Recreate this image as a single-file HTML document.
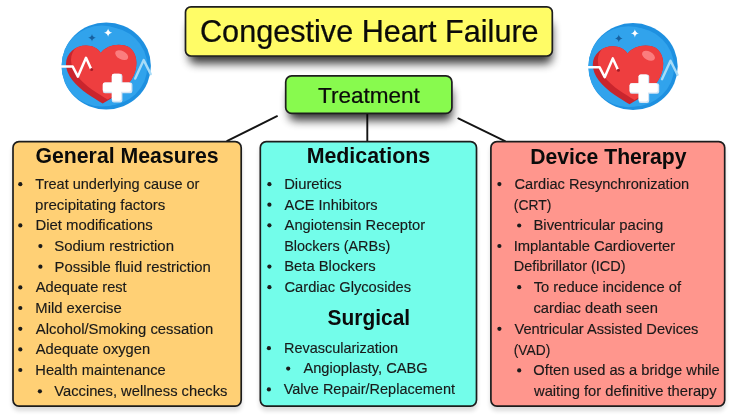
<!DOCTYPE html>
<html><head><meta charset="utf-8"><title>Congestive Heart Failure - Treatment</title>
<style>
html,body{margin:0;padding:0;background:#fff;}
body{width:738px;height:415px;overflow:hidden;font-family:"Liberation Sans",sans-serif;}
svg{display:block;}
text{font-family:"Liberation Sans",sans-serif;fill:#1a1a1a;}
.h{font-weight:bold;font-size:21.4px;fill:#0b0b0b;}
.t{font-size:14.8px;stroke:#1a1a1a;stroke-width:0.15px;}
.T{fill:#0b0b0b;stroke:#0b0b0b;stroke-width:0.25px;}
.b{fill:#1a1a1a;}
</style></head><body>
<svg width="738" height="415" viewBox="0 0 738 415">
<defs>
<filter id="sh2" x="-5%" y="-5%" width="110%" height="112%">
<feGaussianBlur in="SourceAlpha" stdDeviation="2"/><feOffset dx="0" dy="3.5"/>
<feComponentTransfer><feFuncA type="linear" slope="0.14"/></feComponentTransfer>
<feMerge><feMergeNode/><feMergeNode in="SourceGraphic"/></feMerge>
</filter>
<filter id="bl" x="-20%" y="-60%" width="140%" height="220%"><feGaussianBlur stdDeviation="4.6"/></filter>
<g id="heart">
<clipPath id="hc"><path id="hp" d="M-5.5,-12.5 C-10,-21 -25,-23 -34,-15 C-42.5,-7.5 -42,4 -34,14.5 C-26,25 -12,32.8 -3.5,38 C6,32.8 22,22.5 27.5,10 C32.5,-1.5 30.5,-13.5 22.5,-18.5 C14,-22.8 1,-21 -5.5,-12.5Z"/></clipPath>
<clipPath id="cc"><ellipse cx="0" cy="0.4" rx="44.7" ry="43.5"/></clipPath>
<ellipse cx="0" cy="0.4" rx="44.7" ry="43.5" fill="#1e90e0"/>
<ellipse cx="0.5" cy="0.8" rx="40.6" ry="39.4" fill="#31a3ec"/>
<g clip-path="url(#cc)">
<path d="M12,-46 A46,46 0 0 1 32,34 L60,34 L60,-46Z" fill="#4db6f3"/>
<circle cx="-4.5" cy="0.5" r="40.5" fill="#31a3ec"/>
</g>
<path d="M29,13 L37.5,-5.5 L44.5,8.5" fill="none" stroke="#a8dcf8" stroke-width="2.4" stroke-linejoin="round" stroke-linecap="round"/>
<use href="#hp" fill="#c9252d"/>
<g clip-path="url(#hc)">
<use href="#hp" fill="#ee3e3f" transform="translate(5,-4.2)"/>
<ellipse cx="15.5" cy="-10.5" rx="7" ry="4.2" fill="#fb7d7e" transform="rotate(28 15.5 -10.5)"/>
</g>
<path d="M-46,1 L-33.5,1 L-28.3,11 L-20.2,-7.8 L-15.2,3.2" fill="none" stroke="#ffffff" stroke-width="2.5" stroke-linejoin="round" stroke-linecap="round"/>
<circle cx="-14.6" cy="4" r="1.5" fill="#a51c26"/>
<path d="M1.9,-37 Q2.4,-33.4 6,-32.9 Q2.4,-32.4 1.9,-28.8 Q1.4,-32.4 -2.2,-32.9 Q1.4,-33.4 1.9,-37Z" fill="#ffffff"/>
<path d="M-14.2,-31.6 Q-13.7,-28.3 -10.4,-27.8 Q-13.7,-27.3 -14.2,-24 Q-14.7,-27.3 -18,-27.8 Q-14.7,-28.3 -14.2,-31.6Z" fill="#17609f"/>
<g>
<rect x="5.6" y="8.2" width="10.6" height="28.6" rx="2.2" fill="#d4e4f4"/>
<rect x="-3.4" y="17" width="29.6" height="10.6" rx="2.2" fill="#d4e4f4"/>
<rect x="5.6" y="8.2" width="9.4" height="27" rx="2.2" fill="#ffffff"/>
<rect x="-3.4" y="17" width="28.2" height="9.2" rx="2.2" fill="#ffffff"/>
</g>

</g>
</defs>
<rect width="738" height="415" fill="#ffffff"/>

<g stroke="#141414" stroke-width="1.9" stroke-linecap="round" fill="none">
<line x1="227.3" y1="140.8" x2="277" y2="116.2"/>
<line x1="367.3" y1="112" x2="367.3" y2="141"/>
<line x1="458.3" y1="118.4" x2="505" y2="141.2"/>
</g>
<rect x="189" y="22" width="363" height="41.5" rx="6" fill="#000" opacity="0.78" filter="url(#bl)"/>
<rect x="289" y="88" width="163" height="32.5" rx="6" fill="#000" opacity="0.78" filter="url(#bl)"/>
<rect x="185.5" y="6.8" width="366.8" height="49.2" rx="5.5" ry="5.5" fill="#fffc66" stroke="#1e1e1e" stroke-width="1.7"/>
<rect x="285.7" y="75.9" width="166.2" height="37.5" rx="6" ry="6" fill="#88fa4e" stroke="#1e1e1e" stroke-width="1.7"/>
<rect x="13.0" y="141.7" width="228.2" height="264.4" rx="6" ry="6" fill="#ffd074" stroke="#1e1e1e" stroke-width="1.7" filter="url(#sh2)"/>
<rect x="260.3" y="141.7" width="216.2" height="264.4" rx="6" ry="6" fill="#73fdea" stroke="#1e1e1e" stroke-width="1.7" filter="url(#sh2)"/>
<rect x="490.9" y="141.7" width="233.8" height="264.4" rx="6" ry="6" fill="#ff968d" stroke="#1e1e1e" stroke-width="1.7" filter="url(#sh2)"/>
<g id="txt" opacity="0.999">
<circle class="b" cx="20.3" cy="184.2" r="2.1"/>
<text class="t" transform="translate(35.33,189.0) scale(0.9812,1)">Treat underlying cause or</text>
<text class="t" transform="translate(35.08,209.6) scale(1.0162,1)">precipitating factors</text>
<circle class="b" cx="20.3" cy="225.4" r="2.1"/>
<text class="t" transform="translate(35.44,230.2) scale(1.0052,1)">Diet modifications</text>
<circle class="b" cx="40.4" cy="246.1" r="2.1"/>
<text class="t" transform="translate(54.24,250.9) scale(1.0124,1)">Sodium restriction</text>
<circle class="b" cx="40.4" cy="266.7" r="2.1"/>
<text class="t" transform="translate(54.54,271.5) scale(1.0062,1)">Possible fluid restriction</text>
<circle class="b" cx="20.3" cy="287.4" r="2.1"/>
<text class="t" transform="translate(35.8,292.2) scale(0.987,1)">Adequate rest</text>
<circle class="b" cx="20.3" cy="308.0" r="2.1"/>
<text class="t" transform="translate(35.35,312.8) scale(1.0,1)">Mild exercise</text>
<circle class="b" cx="20.3" cy="328.8" r="2.1"/>
<text class="t" transform="translate(35.8,333.6) scale(1.0036,1)">Alcohol/Smoking cessation</text>
<circle class="b" cx="20.3" cy="349.4" r="2.1"/>
<text class="t" transform="translate(35.8,354.2) scale(0.9926,1)">Adequate oxygen</text>
<circle class="b" cx="20.3" cy="370.0" r="2.1"/>
<text class="t" transform="translate(35.36,374.8) scale(0.9911,1)">Health maintenance</text>
<circle class="b" cx="39.9" cy="391.3" r="2.1"/>
<text class="t" transform="translate(54.28,396.1) scale(0.9955,1)">Vaccines, wellness checks</text>
<circle class="b" cx="269.4" cy="184.2" r="2.1"/>
<text class="t" transform="translate(284.15,189.0) scale(1.0027,1)">Diuretics</text>
<circle class="b" cx="269.4" cy="204.7" r="2.1"/>
<text class="t" transform="translate(284.6,209.5) scale(0.984,1)">ACE Inhibitors</text>
<circle class="b" cx="269.4" cy="225.3" r="2.1"/>
<text class="t" transform="translate(284.6,230.1) scale(0.9933,1)">Angiotensin Receptor</text>
<text class="t" transform="translate(284.18,250.7) scale(0.9777,1)">Blockers (ARBs)</text>
<circle class="b" cx="269.4" cy="266.6" r="2.1"/>
<text class="t" transform="translate(284.15,271.4) scale(1.0022,1)">Beta Blockers</text>
<circle class="b" cx="269.4" cy="287.2" r="2.1"/>
<text class="t" transform="translate(284.45,292.0) scale(0.9935,1)">Cardiac Glycosides</text>
<circle class="b" cx="268.9" cy="348.2" r="2.1"/>
<text class="t" transform="translate(283.98,353.0) scale(0.9771,1)">Revascularization</text>
<circle class="b" cx="288.2" cy="368.6" r="2.1"/>
<text class="t" transform="translate(303.4,373.4) scale(0.9904,1)">Angioplasty, CABG</text>
<circle class="b" cx="268.9" cy="389.4" r="2.1"/>
<text class="t" transform="translate(283.68,394.2) scale(0.9797,1)">Valve Repair/Replacement</text>
<circle class="b" cx="499.4" cy="184.1" r="2.1"/>
<text class="t" transform="translate(514.46,188.9) scale(0.989,1)">Cardiac Resynchronization</text>
<text class="t" transform="translate(513.78,209.9) scale(0.9386,1)">(CRT)</text>
<circle class="b" cx="519.2" cy="225.5" r="2.1"/>
<text class="t" transform="translate(533.44,230.3) scale(1.0049,1)">Biventricular pacing</text>
<circle class="b" cx="499.4" cy="246.0" r="2.1"/>
<text class="t" transform="translate(513.63,250.8) scale(0.9983,1)">Implantable Cardioverter</text>
<text class="t" transform="translate(513.78,271.4) scale(0.9793,1)">Defibrillator (ICD)</text>
<circle class="b" cx="519.2" cy="287.2" r="2.1"/>
<text class="t" transform="translate(533.73,292.0) scale(0.9956,1)">To reduce incidence of</text>
<text class="t" transform="translate(533.48,312.6) scale(0.996,1)">cardiac death seen</text>
<circle class="b" cx="499.4" cy="328.8" r="2.1"/>
<text class="t" transform="translate(514.48,333.6) scale(0.99,1)">Ventricular Assisted Devices</text>
<text class="t" transform="translate(513.79,354.9) scale(0.9311,1)">(VAD)</text>
<circle class="b" cx="519.2" cy="370.4" r="2.1"/>
<text class="t" transform="translate(533.35,375.2) scale(0.9945,1)">Often used as a bridge while</text>
<text class="t" transform="translate(534.0,395.5) scale(0.9963,1)">waiting for definitive therapy</text>
<text class="h" transform="translate(35.43,163.4) scale(0.9945,1)">General Measures</text>
<text class="h" transform="translate(306.63,163.2) scale(0.9994,1)">Medications</text>
<text class="h" transform="translate(530.14,163.5) scale(0.9896,1)">Device Therapy</text>
<text class="h" transform="translate(327.59,325.2) scale(0.9775,1)">Surgical</text>
<text class="T" font-size="31.2" transform="translate(200.0,41.8) scale(0.9816,1)">Congestive Heart Failure</text>
<text class="T" font-size="22.8" transform="translate(318.01,103.3) scale(0.9875,1)">Treatment</text>
</g>
<use href="#heart" transform="translate(106.2,65.6)"/>
<use href="#heart" transform="translate(633.0,66.2)"/>
</svg></body></html>
